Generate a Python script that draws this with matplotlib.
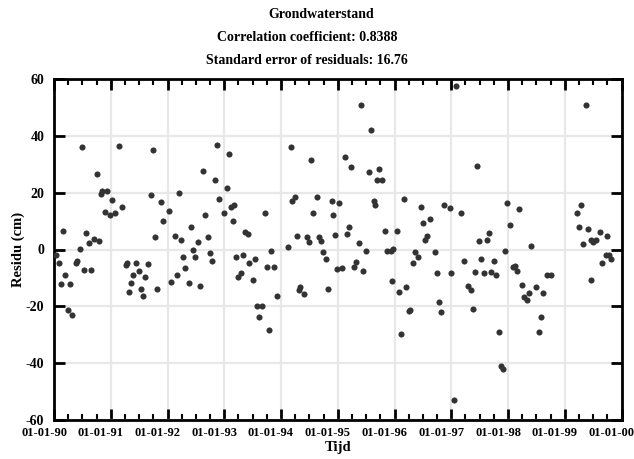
import matplotlib
matplotlib.use("Agg")
import matplotlib.pyplot as plt
from matplotlib.ticker import MultipleLocator
from matplotlib.transforms import ScaledTranslation

plt.rcParams['font.family'] = ['Liberation Serif', 'DejaVu Serif']
plt.rcParams['font.weight'] = 'bold'
plt.rcParams['axes.unicode_minus'] = False

title_lines = ["Grondwaterstand",
               "Correlation coefficient: 0.8388",
               "Standard error of residuals: 16.76"]
x_label = "Tijd"
y_label = "Residu (cm)"

x_ticks = [1990, 1991, 1992, 1993, 1994, 1995, 1996, 1997, 1998, 1999, 2000]
x_tick_labels = ["01-01-90", "01-01-91", "01-01-92", "01-01-93", "01-01-94", "01-01-95",
                 "01-01-96", "01-01-97", "01-01-98", "01-01-99", "01-01-00"]
y_ticks = [-60, -40, -20, 0, 20, 40, 60]

# decimal year of each observation
t = [1990.04, 1990.09, 1990.12, 1990.15, 1990.19, 1990.24, 1990.29, 1990.32, 1990.38, 1990.40,
     1990.45, 1990.49, 1990.53, 1990.56, 1990.61, 1990.65, 1990.71, 1990.75, 1990.79, 1990.82,
     1990.85, 1990.90, 1990.94, 1990.99,
     1991.03, 1991.08, 1991.15, 1991.20, 1991.27, 1991.29, 1991.32, 1991.36, 1991.40, 1991.45,
     1991.49, 1991.53, 1991.56, 1991.61, 1991.66, 1991.71, 1991.75, 1991.78, 1991.82, 1991.88,
     1991.92,
     1992.03, 1992.06, 1992.13, 1992.16, 1992.20, 1992.24, 1992.28, 1992.31, 1992.38, 1992.41,
     1992.45, 1992.49, 1992.53, 1992.58, 1992.62, 1992.66, 1992.71, 1992.75, 1992.79, 1992.83,
     1992.87, 1992.90, 1992.99,
     1993.05, 1993.09, 1993.12, 1993.16, 1993.17, 1993.20, 1993.25, 1993.29, 1993.33, 1993.37,
     1993.41, 1993.44, 1993.50, 1993.54, 1993.58, 1993.61, 1993.66, 1993.71, 1993.75, 1993.79,
     1993.82, 1993.87, 1993.93,
     1994.13, 1994.17, 1994.20, 1994.24, 1994.29, 1994.32, 1994.34, 1994.40, 1994.46, 1994.50,
     1994.53, 1994.57, 1994.63, 1994.67, 1994.70, 1994.74, 1994.79, 1994.82, 1994.89, 1994.92,
     1994.96, 1994.99,
     1995.03, 1995.07, 1995.13, 1995.16, 1995.20, 1995.24, 1995.29, 1995.32, 1995.38, 1995.41,
     1995.45, 1995.49, 1995.55, 1995.58, 1995.63, 1995.66, 1995.69, 1995.73, 1995.78, 1995.83,
     1995.87, 1995.93, 1995.95, 1995.98,
     1996.04, 1996.08, 1996.11, 1996.16, 1996.20, 1996.25, 1996.28, 1996.33, 1996.37, 1996.41,
     1996.47, 1996.50, 1996.54, 1996.58, 1996.62, 1996.71, 1996.75, 1996.78, 1996.82, 1996.88,
     1996.97,
     1997.00, 1997.04, 1997.08, 1997.18, 1997.22, 1997.29, 1997.34, 1997.38, 1997.41, 1997.45,
     1997.49, 1997.53, 1997.57, 1997.63, 1997.67, 1997.70, 1997.75, 1997.79, 1997.84, 1997.88,
     1997.91, 1997.95, 1997.99,
     1998.04, 1998.09, 1998.12, 1998.16, 1998.20, 1998.24, 1998.29, 1998.33, 1998.37, 1998.41,
     1998.50, 1998.54, 1998.58, 1998.62, 1998.69, 1998.75,
     1999.22, 1999.25, 1999.29, 1999.32, 1999.37, 1999.41, 1999.47, 1999.47, 1999.50, 1999.55,
     1999.62, 1999.66, 1999.72, 1999.75, 1999.78, 1999.82]

# residual (cm)
residu = [-2.1, -4.7, -12.0, 6.4, -9.1, -21.2, -12.0, -23.1, -4.7, -4.2,
          0.2, 35.9, -7.1, 5.8, 2.2, -7.3, 3.8, 26.4, 2.9, 19.4,
          20.6, 13.3, 20.6, 12.1,
          17.4, 13.0, 36.3, 15.1, -5.3, -4.7, -15.1, -11.8, -9.1, -4.9,
          -7.7, -13.8, -16.3, -9.8, -5.2, 19.1, 35.0, 4.3, -14.0, 16.8,
          10.0,
          13.5, -11.4, 4.7, -9.1, 19.8, 3.4, -2.8, -6.4, -11.7, 7.9,
          -0.2, -2.6, 2.8, -12.8, 27.7, 12.1, 4.3, -1.4, -4.1, 24.4,
          36.9, 17.8, 13.0,
          21.8, 33.6, 15.1, 10.1, 15.7, -2.8, -9.8, -8.2, -2.0, 6.3,
          5.5, -4.9, -10.6, -3.4, -20.0, -23.9, -19.9, 13.0, -6.1, -28.2,
          -0.7, -6.3, -16.5,
          1.0, 36.2, 17.0, 18.5, 4.7, -14.4, -13.3, -15.5, 4.5, 2.6,
          31.4, 13.0, 18.5, 4.5, 2.9, -0.8, -3.3, -13.9, 17.1, 12.3,
          5.1, -7.0,
          16.3, -6.4, 32.6, 5.3, 7.9, 29.2, -6.3, -4.3, 2.2, 50.8,
          -7.7, -0.7, 27.3, 41.9, 17.0, 15.7, 24.6, 28.5, 24.3, 6.5,
          -0.5, -0.5, -11.0, 0.2,
          6.4, -15.1, -29.8, 17.7, -13.3, -21.7, -21.2, -4.8, -0.9, -2.7,
          15.0, 9.4, 3.5, 4.7, 10.6, -0.8, -8.4, -18.3, -22.0, 15.7,
          14.6,
          -8.4, -52.8, 57.5, 12.7, -4.2, -13.0, -14.1, -21.0, -7.9, 29.3,
          2.9, -3.5, -8.2, 3.5, 5.8, -8.0, -4.2, -9.1, -28.9, -41.0,
          -42.2, -0.6, 16.5,
          8.5, -6.2, -5.9, -7.7, 14.1, -12.6, -16.7, -17.7, -15.4, 1.4,
          -13.3, -29.1, -23.6, -15.3, -8.8, -9.1,
          12.7, 8.0, 15.8, 2.0, 51.0, 7.3, -10.6, 3.5, 2.7, 3.5,
          6.3, -4.8, -1.8, 4.7, -1.8, -3.2]

W, H = 634, 459
fig = plt.figure(figsize=(W / 100, H / 100), dpi=100)
L, R, T, B = 54, 621.5, 79, 420
ax = fig.add_axes([L / W, 1 - B / H, (R - L) / W, (B - T) / H])

ax.plot(t, residu, linestyle='none', marker='o', markersize=4.4,
        color='#333333', markeredgewidth=0, zorder=3)

ax.set_xlim(1990, 2000)
ax.set_ylim(-60, 60)
ax.set_xticks(x_ticks)
ax.set_xticklabels(x_tick_labels)
ax.set_yticks(y_ticks)
ax.set_yticklabels([str(v) for v in y_ticks])
ax.xaxis.set_minor_locator(MultipleLocator(0.25))

ax.grid(True, which='major', color='#e8e8e8', linewidth=1.6, zorder=0)
ax.set_axisbelow(True)
for s in ax.spines.values():
    s.set_linewidth(2.0)
    s.set_color('black')

ax.tick_params(axis='both', which='major', direction='in', length=8, width=2,
               top=True, right=True)
ax.tick_params(axis='x', which='major', labelsize=9, pad=5)
ax.tick_params(axis='y', which='major', labelsize=10, pad=7)
ax.tick_params(axis='x', which='minor', direction='in', length=4, width=1.5,
               top=True, bottom=True)

shift = ScaledTranslation(-10 / 100, 0, fig.dpi_scale_trans)
for lab in ax.get_xticklabels():
    lab.set_fontweight('bold')
    lab.set_transform(lab.get_transform() + shift)
for lab in ax.get_yticklabels():
    lab.set_fontweight('bold')

ax.set_xlabel(x_label, fontsize=10.5, fontweight='bold')
ax.set_ylabel(y_label, fontsize=10.5, fontweight='bold')
ax.xaxis.set_label_coords((338 - L) / (R - L), -(448 - B) / (B - T))
ax.yaxis.set_label_coords((18 - L) / (R - L), 0.5)
ax.xaxis.label.set_va('center')
ax.yaxis.label.set_va('center')

centers = [321.7, 307.5, 306.7]
ys = [15, 37.5, 61]
for line, cx, cy in zip(title_lines, centers, ys):
    fig.text(cx / W, 1 - cy / H, line, ha='center', va='center',
             fontsize=10, fontweight='bold')

fig.savefig("out.png", dpi=100)
